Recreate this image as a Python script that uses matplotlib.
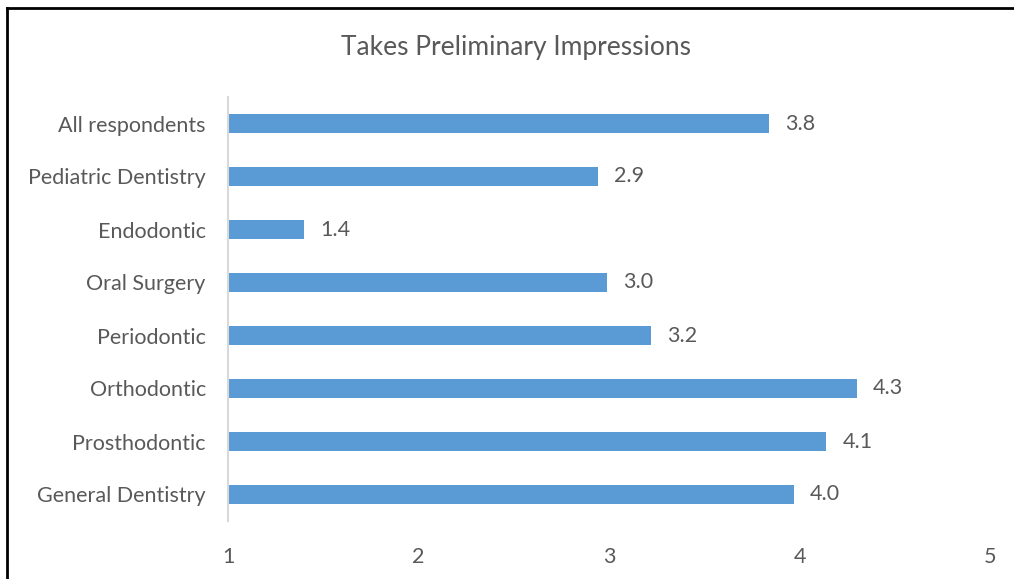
import matplotlib
matplotlib.use("Agg")
import matplotlib.pyplot as plt
from matplotlib.lines import Line2D

categories = ["General Dentistry", "Prosthodontic", "Orthodontic", "Periodontic",
              "Oral Surgery", "Endodontic", "Pediatric Dentistry", "All respondents"]
values = [3.97, 4.14, 4.3, 3.22, 2.99, 1.4, 2.94, 3.84]
x_ticks = [1, 2, 3, 4, 5]
title = "Takes Preliminary Impressions"

plt.rcParams['font.family'] = ['Lato', 'DejaVu Sans']
text_color = "#595959"
bar_color = "#5B9BD5"
fs = 15.5

fig = plt.figure(figsize=(10.14, 5.79), dpi=100)
ax = fig.add_axes([228/1014, 1-521/579, (990-228)/1014, (521-97)/579])

y = list(range(len(categories)))
ax.barh(y, [v - 1 for v in values], left=1, height=0.34, color=bar_color)
for yi, v in zip(y, values):
    ax.text(v + 0.085, yi, f"{v:.1f}", va="center", ha="left", fontsize=fs, color=text_color)

ax.set_xlim(1, 5)
ax.set_ylim(-0.5, len(categories) - 0.5)
ax.set_yticks(y)
ax.set_yticklabels(categories, fontsize=fs, color=text_color)
ax.set_xticks(x_ticks)
ax.set_xticklabels([str(t) for t in x_ticks], fontsize=fs, color=text_color)
ax.tick_params(axis="both", length=0)
ax.tick_params(axis="y", pad=16)
ax.tick_params(axis="x", pad=19)
for s in ["top", "right", "bottom"]:
    ax.spines[s].set_visible(False)
ax.spines["left"].set_color("#D9D9D9")
ax.spines["left"].set_linewidth(1.5)

fig.text(516/1014, 1-47/579, title, ha="center", va="center", fontsize=19, color=text_color)

# outer frame (left and top edges visible)
fig.add_artist(Line2D([7/1014, 7/1014], [0, 1-8/579], transform=fig.transFigure, color="black", lw=2))
fig.add_artist(Line2D([7/1014, 1], [1-8/579, 1-8/579], transform=fig.transFigure, color="black", lw=2))

fig.savefig("out.png", dpi=100)
